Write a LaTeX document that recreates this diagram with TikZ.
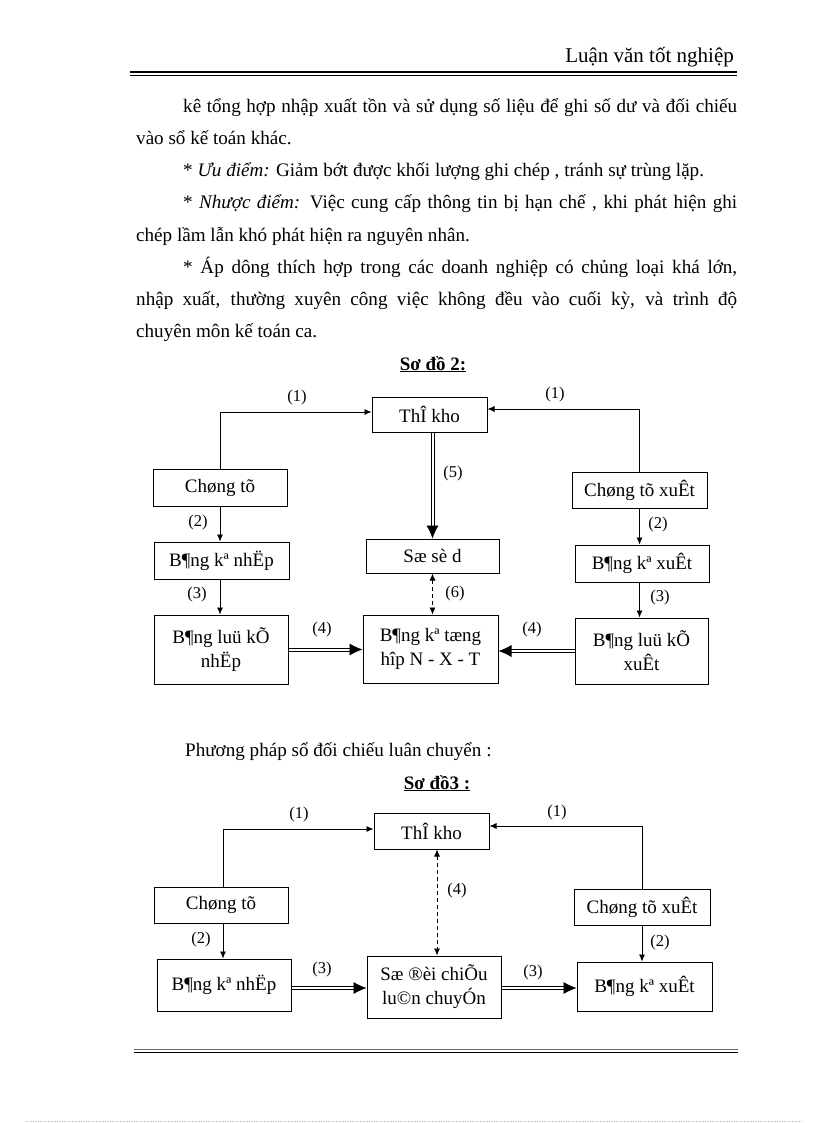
\documentclass[tikz,border=0pt]{standalone}
\usepackage{fontspec}
\setmainfont{Liberation Serif}
\usetikzlibrary{arrows.meta,calc,positioning,decorations.markings}
\newcommand\boxfont{\fontsize{19}{24}\selectfont}
\newcommand\numfont{\fontsize{16.5}{18}\selectfont}
\newcommand\bodyfont{\fontsize{19.1}{22}\selectfont}
\newcommand\titlefont{\fontsize{19}{22}\selectfont\bfseries}
\definecolor{rulegray}{RGB}{95,110,95}
\tikzset{
  >={Latex[length=7pt,width=6pt]},
  box/.style={
    rectangle,
    draw=black, line width=1pt,
    inner sep=0pt,
    align=center,
    font=\boxfont},
  line/.style={draw, line width=0.8pt, ->},
  dblline/.style={draw, double, double distance=2pt, line width=1pt,
    shorten >=9pt,
    decoration={markings,
      mark=at position 1 with {\arrow[line width=0.6pt]{Latex[length=13pt,width=12pt]}}},
    postaction={decorate}},
  dashline/.style={draw, line width=0.8pt, dash pattern=on 4pt off 3pt, <->},
  num/.style={font=\numfont, inner sep=0pt},
}

\begin{document}
\begin{tikzpicture}[
    x=1pt, y=-1pt,
    txt/.style={anchor=base west, inner sep=0pt, font=\bodyfont},
    rule/.style={line width=1pt}
    ]
    \useasboundingbox[fill=white] (0,0) rectangle (816,1123);

    % Header
    \node[anchor=base east, inner sep=0pt, font=\fontsize{21}{24}\selectfont]
        (head) at (734,63) {Luận văn tốt nghiệp};
    \draw[line width=2.2pt] (130,72) -- (737,72);
    \draw[rule] (130,75.5) -- (737,75.5);

    % Text
    \node[txt] (l1) at (183,113) {\makebox[554pt][s]{kê tổng hợp nhập xuất tồn và sử dụng số liệu để ghi số dư và đối chiếu}};
    \node[txt] (l2) at (136,145) {vào sổ kế toán khác.};
    \node[txt] (l3) at (183,177) {* \textit{Ưu điểm:} Giảm bớt được khối lượng ghi chép , tránh sự trùng lặp.};
    \node[txt] (l4) at (183,209) {\makebox[554pt][s]{* \textit{Nhược điểm:} Việc cung cấp thông tin bị hạn chế , khi phát hiện ghi}};
    \node[txt] (l5) at (136,241) {chép lầm lẫn khó phát hiện ra nguyên nhân.};
    \node[txt] (l6) at (183,273) {\makebox[554pt][s]{* Áp dông thích hợp trong các doanh nghiệp có chủng loại khá lớn,}};
    \node[txt] (l7) at (136,305) {\makebox[601pt][s]{nhập xuất, thường xuyên công việc không đều vào cuối kỳ, và trình độ}};
    \node[txt] (l8) at (136,337) {chuyên môn kế toán ca.};

    % So do 2
    \node[anchor=base, inner sep=0pt, font=\titlefont] (title2) at (433,370) {\underline{Sơ đồ 2:}};

    \node[box, minimum width=115pt, minimum height=35pt] (thikho2) at (429.5,414.5) {ThÎ kho};
    \node[box, minimum width=134pt, minimum height=37pt] (ctnhap2) at (220,487.5) {Chøng tõ};
    \node[box, minimum width=135pt, minimum height=37pt] (bknhap2) at (221.5,560.5) {B¶ng kª nhËp};
    \node[box, minimum width=134pt, minimum height=69pt] (blknhap2) at (221,649.5) {B¶ng luü kÕ\\nhËp};
    \node[box, minimum width=133pt, minimum height=34pt] (sosod2) at (432.5,556) {Sæ sè d};
    \node[box, minimum width=135pt, minimum height=68pt] (bktong2) at (430.5,649) {B¶ng kª tæng\\hîp N - X - T};
    \node[box, minimum width=135pt, minimum height=36pt] (ctxuat2) at (639.5,490) {Chøng tõ xuÊt};
    \node[box, minimum width=134pt, minimum height=37pt] (bkxuat2) at (642,563.5) {B¶ng kª xuÊt};
    \node[box, minimum width=133pt, minimum height=66pt] (blkxuat2) at (641.5,651) {B¶ng luü kÕ\\xuÊt};

    \draw[line] (ctnhap2.north) |- ([yshift=2.5pt]thikho2.west);
    \draw[line] (ctxuat2.north) |- ([yshift=5.5pt]thikho2.east);
    \draw[line] (ctnhap2.south) -- (ctnhap2.south |- bknhap2.north);
    \draw[line] (bknhap2.south -| ctnhap2.south) -- (ctnhap2.south |- blknhap2.north);
    \draw[line] (ctxuat2.south) -- (ctxuat2.south |- bkxuat2.north);
    \draw[line] (bkxuat2.south -| ctxuat2.south) -- (ctxuat2.south |- blkxuat2.north);
    \draw[dblline] (blknhap2.east) -- (blknhap2.east -| bktong2.west);
    \draw[dblline] (blkxuat2.west) -- (blkxuat2.west -| bktong2.east);
    \draw[dblline] (thikho2.south -| sosod2.north) -- (sosod2.north);
    \draw[dashline] (sosod2.south) -- (sosod2.south |- bktong2.north);

    \node[num] (n1l2) at (297,398) {(1)};
    \node[num] (n1r2) at (555,395) {(1)};
    \node[num] (n2l2) at (198,523) {(2)};
    \node[num] (n3l2) at (197,595) {(3)};
    \node[num] (n4l2) at (322,630) {(4)};
    \node[num] (n4r2) at (532,630) {(4)};
    \node[num] (n5) at (453,474) {(5)};
    \node[num] (n6) at (455,594) {(6)};
    \node[num] (n2r2) at (658,525) {(2)};
    \node[num] (n3r2) at (660,598) {(3)};

    % So do 3
    \node[txt] (pp) at (185,756) {Phương pháp sổ đối chiếu luân chuyển :};
    \node[anchor=base, inner sep=0pt, font=\titlefont] (title3) at (437,789) {\underline{Sơ đồ3 :}};

    \node[box, minimum width=115pt, minimum height=36pt] (thikho3) at (431.5,831) {ThÎ kho};
    \node[box, minimum width=134pt, minimum height=36pt] (ctnhap3) at (221,905) {Chøng tõ};
    \node[box, minimum width=134pt, minimum height=52pt] (bknhap3) at (224,985) {B¶ng kª nhËp};
    \node[box, minimum width=134pt, minimum height=62pt] (sodc3) at (434,987) {Sæ ®èi chiÕu\\lu©n chuyÓn};
    \node[box, minimum width=136pt, minimum height=36pt] (ctxuat3) at (642,907) {Chøng tõ xuÊt};
    \node[box, minimum width=135pt, minimum height=49pt] (bkxuat3) at (644.5,986.5) {B¶ng kª xuÊt};

    \draw[line] ([xshift=2pt]ctnhap3.north) |- ([yshift=2pt]thikho3.west);
    \draw[line] (ctxuat3.north) |- ([yshift=5pt]thikho3.east);
    \draw[line] ([xshift=2pt]ctnhap3.south) -- ([xshift=2pt]ctnhap3.south |- bknhap3.north);
    \draw[line] (ctxuat3.south) -- (ctxuat3.south |- bkxuat3.north);
    \draw[dblline] ([yshift=-3pt]bknhap3.east) -- ([yshift=-3pt]bknhap3.east -| sodc3.west);
    \draw[dblline] ([yshift=-1pt]sodc3.east) -- ([yshift=-1pt]sodc3.east -| bkxuat3.west);
    \draw[dashline] ([xshift=5.5pt]thikho3.south) -- ([xshift=5.5pt]thikho3.south |- sodc3.north);

    \node[num] (n1l3) at (299,815) {(1)};
    \node[num] (n1r3) at (557,813) {(1)};
    \node[num] (n2l3) at (201,940) {(2)};
    \node[num] (n3l3) at (322,970) {(3)};
    \node[num] (n4) at (457,891) {(4)};
    \node[num] (n3r3) at (533,973) {(3)};
    \node[num] (n2r3) at (660,943) {(2)};

    % Footer
    \draw[rule, rulegray] (134,1049.5) -- (738,1049.5);
    \draw[rule] (134,1052.5) -- (738,1052.5);
    \draw[black!30, dotted] (26,1121.5) -- (802,1121.5);
\end{tikzpicture}
\end{document}
